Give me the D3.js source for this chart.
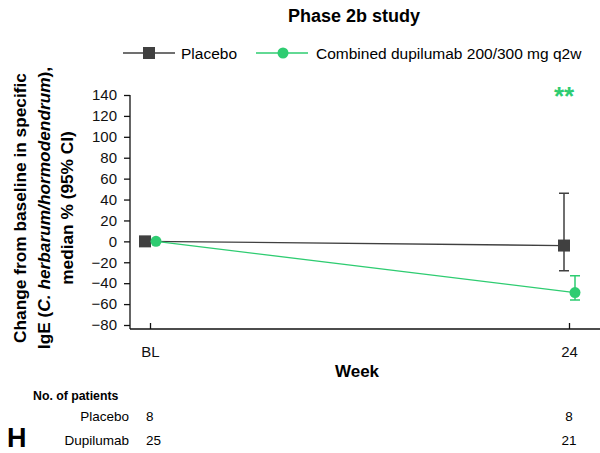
<!DOCTYPE html>
<html>
<head>
<meta charset="utf-8">
<script src="https://cdn.jsdelivr.net/npm/d3@7"></script>
<style>
  body { margin: 0; background: #fff; }
  svg { font-family: "Liberation Sans", Arial, sans-serif; }
</style>
</head>
<body>
<div id="chart"></div>
<script>
// data
const weeks = [0, 24];
const weekLabels = ["BL", "24"];
const placeboMedian = [0, -4];
const placeboLow = [null, -28];
const placeboHigh = [null, 46];
const dupiMedian = [0, -49];
const dupiLow = [null, -56];
const dupiHigh = [null, -33];
const yTicks = [140, 120, 100, 80, 60, 40, 20, 0, -20, -40, -60, -80];
const patientsPlacebo = [8, 8];
const patientsDupi = [25, 21];

const width = 600, height = 453;
const green = "#2ecc71", dark = "#404040";

const svg = d3.select("#chart").append("svg")
  .attr("width", width).attr("height", height);

const x = d3.scaleLinear().domain([0, 24]).range([150, 569]);
const y = d3.scaleLinear().domain([-80, 140]).range([325, 95]);

// axes
const yAxis = svg.append("g").attr("transform", "translate(130,0)")
  .call(d3.axisLeft(y).tickValues(yTicks).tickSize(6).tickPadding(7).tickSizeOuter(0)
    .tickFormat(d => d < 0 ? "\u2212" + Math.abs(d) : d));
yAxis.select(".domain").attr("d", "M0,95V329");

const xAxis = svg.append("g").attr("transform", "translate(0,329)")
  .call(d3.axisBottom(x).tickValues(weeks).tickSize(-6).tickSizeOuter(0)
    .tickFormat((d, i) => weekLabels[i]));
xAxis.select(".domain").attr("d", "M130,0H600");
xAxis.selectAll(".tick text").attr("y", 28).attr("dy", 0);

svg.selectAll(".tick text").attr("font-size", 15).attr("fill", "#111");
svg.selectAll(".domain, .tick line").attr("stroke", "#111").attr("stroke-width", 1.3);

// series
const series = [
  { med: placeboMedian, lo: placeboLow, hi: placeboHigh, color: dark, dx: -5, shape: "square" },
  { med: dupiMedian, lo: dupiLow, hi: dupiHigh, color: green, dx: 6, shape: "circle" }
];

series.forEach(s => {
  const pts = weeks.map((w, i) => ({ w, v: s.med[i], lo: s.lo[i], hi: s.hi[i] }));
  const g = svg.append("g");
  g.append("path").datum(pts)
    .attr("fill", "none").attr("stroke", s.color).attr("stroke-width", 1.3)
    .attr("d", d3.line().x(d => x(d.w) + s.dx).y(d => y(d.v)));
  const ci = pts.filter(d => d.lo != null);
  g.selectAll(".ci").data(ci).join("path")
    .attr("fill", "none").attr("stroke", s.color).attr("stroke-width", 1.5)
    .attr("d", d => {
      const cx = x(d.w) + s.dx;
      return `M${cx - 5},${y(d.hi)}H${cx + 5}M${cx},${y(d.hi)}V${y(d.lo)}M${cx - 5},${y(d.lo)}H${cx + 5}`;
    });
  if (s.shape === "square") {
    g.selectAll("rect").data(pts).join("rect")
      .attr("x", d => x(d.w) + s.dx - 6).attr("y", d => y(d.v) - 6)
      .attr("width", 12).attr("height", 12).attr("fill", s.color);
  } else {
    g.selectAll("circle").data(pts).join("circle")
      .attr("cx", d => x(d.w) + s.dx).attr("cy", d => y(d.v))
      .attr("r", 5.5).attr("fill", s.color);
  }
});

// significance
svg.append("text").attr("x", x(24) - 5).attr("y", 105)
  .attr("text-anchor", "middle").attr("font-size", 26).attr("font-weight", "bold")
  .attr("fill", green).text("**");

// title
svg.append("text").attr("x", 354).attr("y", 22).attr("text-anchor", "middle")
  .attr("font-size", 18).attr("font-weight", "bold").text("Phase 2b study");

// legend
const leg = svg.append("g");
leg.append("line").attr("x1", 123).attr("x2", 175).attr("y1", 53).attr("y2", 53)
  .attr("stroke", dark).attr("stroke-width", 1.3);
leg.append("rect").attr("x", 143).attr("y", 47).attr("width", 12).attr("height", 12).attr("fill", dark);
leg.append("text").attr("x", 181).attr("y", 58.5).attr("font-size", 15.5).text("Placebo");
leg.append("line").attr("x1", 256).attr("x2", 308).attr("y1", 53).attr("y2", 53)
  .attr("stroke", green).attr("stroke-width", 1.3);
leg.append("circle").attr("cx", 283).attr("cy", 53).attr("r", 5.5).attr("fill", green);
leg.append("text").attr("x", 316).attr("y", 58.5).attr("font-size", 15.5)
  .text("Combined dupilumab 200/300 mg q2w");

// y title
const yt = svg.append("text").attr("transform", "translate(0,208) rotate(-90)")
  .attr("text-anchor", "middle").attr("font-size", 17.3).attr("font-weight", "bold");
yt.append("tspan").attr("x", 0).attr("y", 26).text("Change from baseline in specific");
const l2 = yt.append("tspan").attr("x", 0).attr("y", 50);
l2.append("tspan").text("IgE (");
l2.append("tspan").attr("font-style", "italic").text("C. herbarum/hormodendrum");
l2.append("tspan").text("),");
yt.append("tspan").attr("x", 0).attr("y", 73).text("median % (95% CI)");

// x title
svg.append("text").attr("x", 357).attr("y", 377).attr("text-anchor", "middle")
  .attr("font-size", 17).attr("font-weight", "bold").text("Week");

// patients table
svg.append("text").attr("x", 33).attr("y", 400).attr("font-size", 12.3)
  .attr("font-weight", "bold").text("No. of patients");
const rows = [["Placebo", patientsPlacebo, 421], ["Dupilumab", patientsDupi, 445]];
rows.forEach(([name, vals, yy]) => {
  svg.append("text").attr("x", 129).attr("y", yy).attr("text-anchor", "end")
    .attr("font-size", 13.5).text(name);
  svg.selectAll(null).data(vals).join("text")
    .attr("x", (d, i) => i === 0 ? 146 : x(weeks[i])).attr("y", yy)
    .attr("text-anchor", (d, i) => i === 0 ? "start" : "middle")
    .attr("font-size", 13.5).text(d => d);
});

svg.append("text").attr("x", 7).attr("y", 447).attr("font-size", 27)
  .attr("font-weight", "bold").text("H");
</script>
</body>
</html>
